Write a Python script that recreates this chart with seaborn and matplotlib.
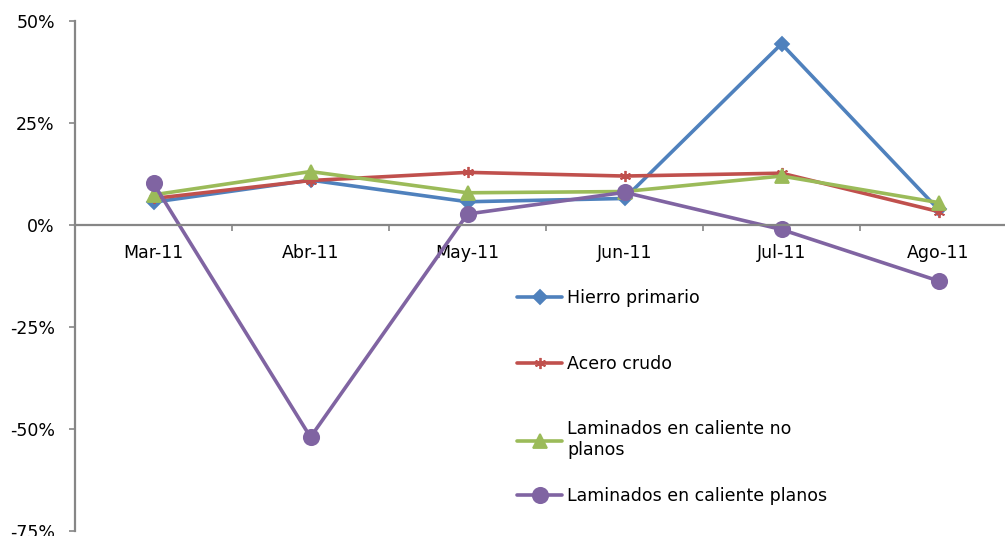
import matplotlib
matplotlib.use("Agg")
import matplotlib.pyplot as plt
from matplotlib.ticker import FuncFormatter, FixedLocator
import seaborn as sns
import pandas as pd

# Monthly year-on-year change (%) by product
months = ["Mar-11", "Abr-11", "May-11", "Jun-11", "Jul-11", "Ago-11"]
hierro_primario = [5.6, 11.0, 5.7, 6.5, 44.4, 3.8]
acero_crudo = [6.5, 10.9, 12.9, 12.0, 12.7, 3.3]
laminados_no_planos = [7.4, 13.1, 7.9, 8.2, 12.0, 5.5]
laminados_planos = [10.2, -52.0, 2.7, 8.0, -1.1, -13.7]

series_names = ["Hierro primario", "Acero crudo",
                "Laminados en caliente no\nplanos", "Laminados en caliente planos"]
series_values = [hierro_primario, acero_crudo, laminados_no_planos, laminados_planos]
colors = ["#4F81BD", "#C0504D", "#9BBB59", "#8064A2"]
markers = ["D", (6, 2, 0), "^", "o"]
marker_sizes = [7, 8, 10, 11]

sns.set_style("white")
plt.rcParams["font.family"] = ["DejaVu Sans"]

W, H = 1005, 536
fig = plt.figure(figsize=(W / 100, H / 100), dpi=100)
left_px, right_px, top_px, bottom_px = 75, 1005, 21, 531
ax = fig.add_axes([left_px / W, (H - bottom_px) / H,
                   (right_px - left_px) / W, (bottom_px - top_px) / H])

positions = list(range(len(months)))
for name, vals, c, m, ms in zip(series_names, series_values, colors, markers, marker_sizes):
    df = pd.DataFrame({"mes": positions, "valor": [v / 100 for v in vals]})
    sns.lineplot(data=df, x="mes", y="valor", ax=ax, color=c, linewidth=2.6,
                 marker=m, markersize=ms, markeredgecolor=c, markerfacecolor=c,
                 markeredgewidth=1.3, label=name)

cat_width_px = 157
ax.set_xlim(-0.5, -0.5 + (right_px - left_px) / cat_width_px)
ax.set_ylim(-0.75, 0.5)

spine_color = "#868686"
for s in ["top", "right"]:
    ax.spines[s].set_visible(False)
ax.spines["left"].set_color(spine_color)
ax.spines["left"].set_linewidth(1.6)
ax.spines["bottom"].set_position(("data", 0))
ax.spines["bottom"].set_color(spine_color)
ax.spines["bottom"].set_linewidth(1.6)

ax.yaxis.set_major_locator(FixedLocator([-0.75, -0.5, -0.25, 0, 0.25, 0.5]))
ax.yaxis.set_major_formatter(FuncFormatter(lambda v, p: f"{v * 100:.0f}%"))
ax.tick_params(axis="y", which="major", direction="out", length=4.5, width=1.2,
               color=spine_color, pad=10, labelsize=12.5, labelcolor="black", left=True)

ax.set_xticks(positions)
ax.set_xticklabels(months)
ax.set_xticks([p + 0.5 for p in positions[:-1]] + [-0.5], minor=True)
ax.tick_params(axis="x", which="major", length=0, pad=14, labelsize=12.5, labelcolor="black")
ax.tick_params(axis="x", which="minor", direction="out", length=4, width=1.2,
               color=spine_color, bottom=True)
ax.set_xlabel("")
ax.set_ylabel("")
ax.grid(False)

handles, labels = ax.get_legend_handles_labels()
legend_kw = dict(loc="upper left", bbox_transform=fig.transFigure, frameon=False,
                 fontsize=12.5, labelcolor="black", borderpad=0, handlelength=2.6,
                 handletextpad=0.3, borderaxespad=0)
leg_top = ax.legend(handles[:3], labels[:3], bbox_to_anchor=(517 / W, 1 - 289 / H),
                    labelspacing=2.75, **legend_kw)
ax.add_artist(leg_top)
ax.legend(handles[3:], labels[3:], bbox_to_anchor=(517 / W, 1 - 487 / H), **legend_kw)

fig.savefig("out.png", dpi=100)
